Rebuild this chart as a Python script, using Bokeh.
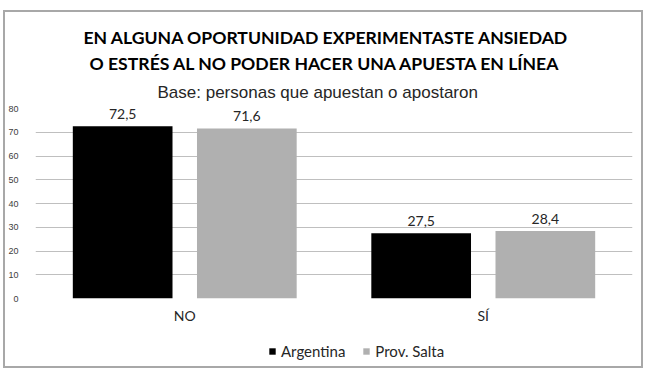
from bokeh.plotting import figure
from bokeh.models import (FactorRange, ColumnDataSource, LabelSet, Title, Legend,
                          LegendItem, FixedTicker, Range1d)
from bokeh.core.properties import value
from bokeh.layouts import column
from bokeh.transform import dodge
from bokeh.embed import file_html
from bokeh.resources import INLINE

categories = ["NO", "SÍ"]
argentina = [72.5, 27.5]
salta = [71.6, 28.4]
series_names = ["Argentina", "Prov. Salta"]
series_colors = ["#000000", "#b0b0b0"]
y_ticks = [0, 10, 20, 30, 40, 50, 60, 70, 80]
title_line1 = "EN ALGUNA OPORTUNIDAD EXPERIMENTASTE ANSIEDAD"
title_line2 = "O ESTRÉS AL NO PODER HACER UNA APUESTA EN LÍNEA"
subtitle = "Base: personas que apuestan o apostaron"

fmt = lambda v: f"{v:.1f}".replace(".", ",")
src = ColumnDataSource(dict(
    cat=categories, arg=argentina, sal=salta,
    arg_lbl=[fmt(v) for v in argentina], sal_lbl=[fmt(v) for v in salta],
))
series_cols = ["arg", "sal"]
offsets = [-0.208, 0.208]

p = figure(width=636, height=325, x_range=FactorRange(factors=categories),
           y_range=Range1d(0, 80), output_backend="svg", toolbar_location=None,
           min_border_left=28, min_border_right=9, min_border_top=96, min_border_bottom=39)
p.outline_line_color = None
p.background_fill_color = "white"
p.border_fill_color = "white"
p.title.text = ""

for col, off, color in zip(series_cols, offsets, series_colors):
    p.vbar(x=dodge("cat", off, range=p.x_range), top=col, width=0.334,
           source=src, fill_color=color, line_color=None)
    p.add_layout(LabelSet(x=dodge("cat", off, range=p.x_range), y=col, text=col + "_lbl",
                          source=src, text_align="center", text_baseline="bottom",
                          y_offset=7, text_font=value("Lato"), text_font_size=value("14px"),
                          text_color="#262626"))

p.yaxis.ticker = FixedTicker(ticks=y_ticks)
p.yaxis.axis_line_color = None
p.yaxis.major_tick_line_color = None
p.yaxis.minor_tick_line_color = None
p.yaxis.major_label_text_font = "Liberation Sans"
p.yaxis.major_label_text_font_size = "9px"
p.yaxis.major_label_text_color = "#404040"
p.yaxis.major_label_standoff = 11

p.xaxis.axis_line_color = None
p.xaxis.major_tick_line_color = None
p.xaxis.major_label_text_font = "Lato"
p.xaxis.major_label_text_font_size = "14px"
p.xaxis.major_label_text_color = "#262626"
p.xaxis.major_label_standoff = 2

p.xgrid.grid_line_color = None
p.ygrid.ticker = FixedTicker(ticks=y_ticks)
p.ygrid.grid_line_color = "#bfbfbf"
p.ygrid.grid_line_width = 1

# thin spacer between the plot area and the subtitle
p.add_layout(Title(text=".", text_font_size="5px", text_alpha=0, standoff=0), "above")
p.add_layout(Title(text=subtitle, align="left", offset=122, text_font="Liberation Sans",
                   text_font_size="17px", text_font_style="normal",
                   text_color="#262626", standoff=13), "above")
p.add_layout(Title(text=title_line2, align="left", offset=54, text_font="Lato",
                   text_font_size="17.6px", text_font_style="bold",
                   text_color="#000000", standoff=2), "above")
p.add_layout(Title(text=title_line1, align="left", offset=48, text_font="Lato",
                   text_font_size="17.6px", text_font_style="bold",
                   text_color="#000000", standoff=3), "above")

# legend strip below the chart (hidden copies of the bars provide the swatches)
lg = figure(width=636, height=29, x_range=p.x_range, y_range=Range1d(-2, -1),
            output_backend="svg", toolbar_location=None, min_border=0)
lg.axis.visible = False
lg.grid.visible = False
lg.outline_line_color = None
lg.border_fill_color = "white"
items = []
for name, col, off, color in zip(series_names, series_cols, offsets, series_colors):
    r = lg.vbar(x=dodge("cat", off, range=lg.x_range), top=col, width=0.334,
                source=src, fill_color=color, line_color=None)
    r.visible = False
    items.append(LegendItem(label=name, renderers=[r]))
legend = Legend(items=items, orientation="horizontal", location=(233, 6),
                glyph_width=8, glyph_height=8, label_standoff=5, spacing=17,
                label_text_font="Lato", label_text_font_size="15px",
                label_text_color="#262626", border_line_color=None,
                background_fill_alpha=0, padding=2, margin=0,
                inactive_fill_alpha=0)
lg.add_layout(legend, "center")

layout = column(p, lg, spacing=0,
                styles={"border": "2px solid #a8a8a8", "margin-left": "3px",
                        "margin-top": "10px"})
open("out.html", "w").write(file_html(layout, INLINE))
